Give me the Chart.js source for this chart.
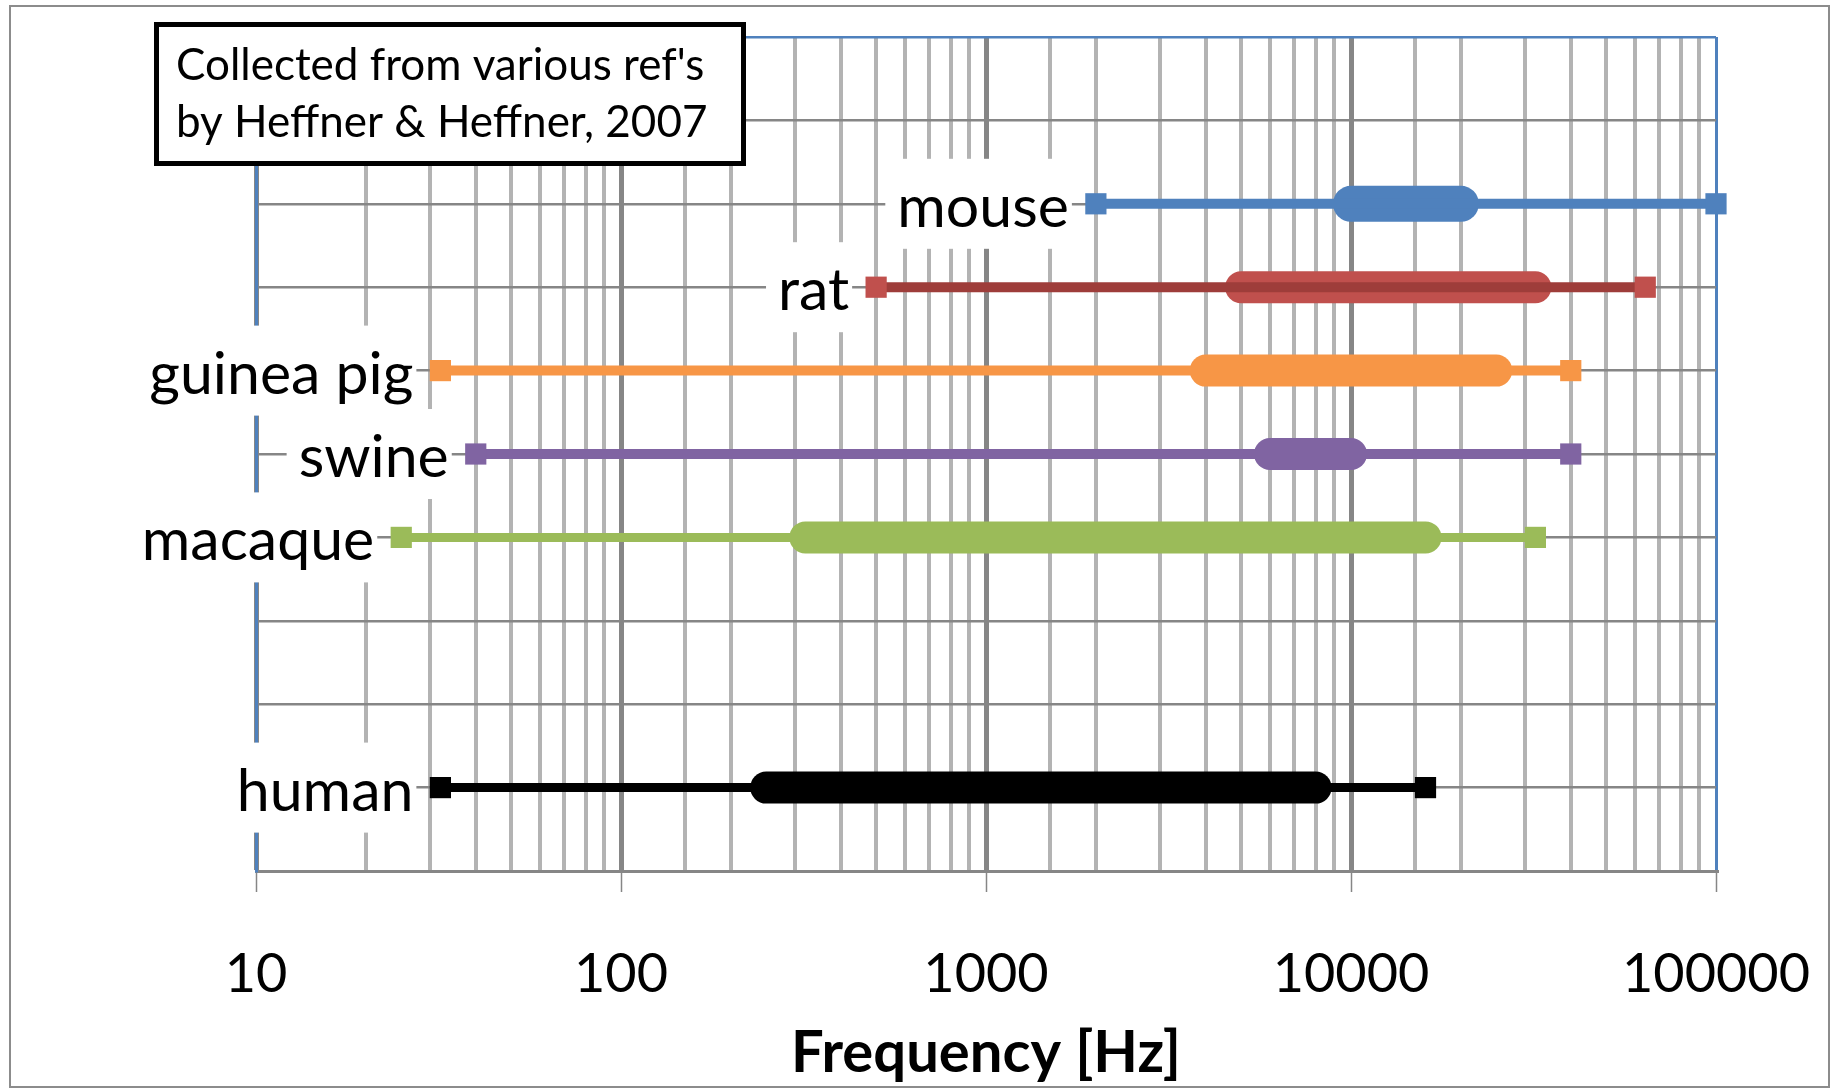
<!DOCTYPE html>
<html>
<head>
<meta charset="utf-8">
<script src="https://cdn.jsdelivr.net/npm/chart.js@4"></script>
<style>
  body { margin: 0; background: #fff; }
  canvas { display: block; }
</style>
</head>
<body>
<canvas id="hearing" width="1831" height="1088"></canvas>
<script>
// Hearing ranges (Heffner & Heffner, 2007)
const species = ['mouse', 'rat', 'guinea pig', 'swine', 'macaque', 'human'];
const rowPos = [8, 7, 6, 5, 4, 1];
const lowLimit = [2000, 500, 32, 40, 25, 32];
const highLimit = [100000, 64000, 40000, 40000, 32000, 16000];
const bestLow = [10000, 5000, 4000, 6000, 320, 250];
const bestHigh = [20000, 32000, 25000, 10000, 16000, 8000];

const thickColors = ['#4f81bd', '#c0504d', '#f79646', '#8064a2', '#9bbb59', '#000000'];
const thinColors = ['#4f81bd', '#9e3d3a', '#f79646', '#8064a2', '#9bbb59', '#000000'];
const thickWidths = [36, 32, 32, 32, 32, 32];
const thinWidths = [10, 10, 10, 10, 9, 9];

const noteLines = ["Collected from various ref's", 'by Heffner & Heffner, 2007'];

Chart.defaults.font.family = 'Lato';
Chart.defaults.color = '#000';

function isDecade(v) {
    const l = Math.log10(v);
    return Math.abs(l - Math.round(l)) < 1e-9;
}

// build datasets: thin full range with square ends, thick best range on top
const datasets = [];
species.forEach(function(name, i) {
    datasets.push({
        label: name + ' range',
        data: [{ x: lowLimit[i], y: rowPos[i] }, { x: highLimit[i], y: rowPos[i] }],
        showLine: true,
        borderColor: thinColors[i],
        borderWidth: thinWidths[i],
        pointStyle: 'rect',
        pointRadius: 15,
        pointBackgroundColor: thickColors[i],
        pointBorderWidth: 0,
        clip: false
    });
});
species.forEach(function(name, i) {
    datasets.push({
        label: name + ' best',
        data: [{ x: bestLow[i], y: rowPos[i] }, { x: bestHigh[i], y: rowPos[i] }],
        showLine: true,
        borderColor: thickColors[i],
        borderWidth: thickWidths[i],
        borderCapStyle: 'round',
        pointRadius: 0,
        clip: false
    });
});

// white page with gray frame
const framePlugin = {
    id: 'frame',
    beforeDraw(chart) {
        const ctx = chart.ctx;
        ctx.save();
        ctx.fillStyle = '#fff';
        ctx.fillRect(0, 0, chart.width, chart.height);
        ctx.strokeStyle = '#8c8c8c';
        ctx.lineWidth = 2;
        ctx.strokeRect(10, 6, 1819, 1081);
        ctx.restore();
    }
};

// species labels left of each range, plus the note box
const labelPlugin = {
    id: 'labels',
    afterDatasetsDraw(chart) {
        const ctx = chart.ctx;
        const xs = chart.scales.x;
        const ys = chart.scales.y;
        ctx.save();
        ctx.font = '59px Lato';
        ctx.textAlign = 'right';
        ctx.textBaseline = 'alphabetic';
        species.forEach(function(name, i) {
            const right = xs.getPixelForValue(lowLimit[i]) - 27;
            const y = ys.getPixelForValue(rowPos[i]);
            const w = ctx.measureText(name).width;
            ctx.fillStyle = '#fff';
            ctx.fillRect(right - w - 12, y - 45, w + 15, 90);
            ctx.fillStyle = '#000';
            ctx.fillText(name, right, y + 23);
        });

        // note box
        ctx.fillStyle = '#fff';
        ctx.fillRect(154, 22, 592, 144);
        ctx.strokeStyle = '#000';
        ctx.lineWidth = 5;
        ctx.strokeRect(156.5, 24.5, 587, 139);
        ctx.fillStyle = '#000';
        ctx.font = '44px Lato';
        ctx.textAlign = 'left';
        ctx.fillText(noteLines[0], 176, 80);
        ctx.fillText(noteLines[1], 176, 137);
        ctx.restore();
    }
};

new Chart(document.getElementById('hearing'), {
    type: 'scatter',
    data: { datasets: datasets },
    options: {
        responsive: false,
        animation: false,
        devicePixelRatio: 1,
        events: [],
        layout: { padding: { left: 0, right: 115, top: 37, bottom: 0 } },
        plugins: {
            legend: { display: false },
            tooltip: { enabled: false }
        },
        scales: {
            x: {
                type: 'logarithmic',
                min: 10,
                max: 100000,
                afterFit(scale) {
                    scale.height = 217;
                    scale.paddingLeft = 0;
                    scale.paddingRight = 0;
                },
                border: { color: '#868686', width: 3 },
                grid: {
                    color(ctx) {
                        const v = ctx.tick ? ctx.tick.value : 0;
                        if (v === 100000) return '#4f81bd';
                        return isDecade(v) ? '#868686' : '#b3b3b3';
                    },
                    lineWidth(ctx) {
                        const v = ctx.tick ? ctx.tick.value : 0;
                        if (v === 100000) return 3;
                        return isDecade(v) ? 5 : 4;
                    },
                    drawTicks: true,
                    tickLength: 21,
                    tickWidth: 1.5,
                    tickColor(ctx) {
                        const v = ctx.tick ? ctx.tick.value : 0;
                        return isDecade(v) ? '#868686' : 'rgba(0,0,0,0)';
                    }
                },
                ticks: {
                    autoSkip: false,
                    maxRotation: 0,
                    padding: 50,
                    font: { size: 54 },
                    callback(value) {
                        return isDecade(value) ? String(value) : '';
                    }
                },
                title: {
                    display: true,
                    text: 'Frequency [Hz]',
                    font: { size: 58, weight: 'bold' },
                    padding: { top: 0, bottom: 0 }
                }
            },
            y: {
                type: 'linear',
                min: 0,
                max: 10,
                afterFit(scale) { scale.width = 256; },
                border: { color: '#4f81bd', width: 3 },
                grid: {
                    color(ctx) {
                        return ctx.tick && ctx.tick.value === 10 ? '#4f81bd' : '#868686';
                    },
                    lineWidth: 2.5,
                    drawTicks: false
                },
                ticks: { display: false, stepSize: 1 }
            }
        }
    },
    plugins: [framePlugin, labelPlugin]
});
</script>
</body>
</html>
